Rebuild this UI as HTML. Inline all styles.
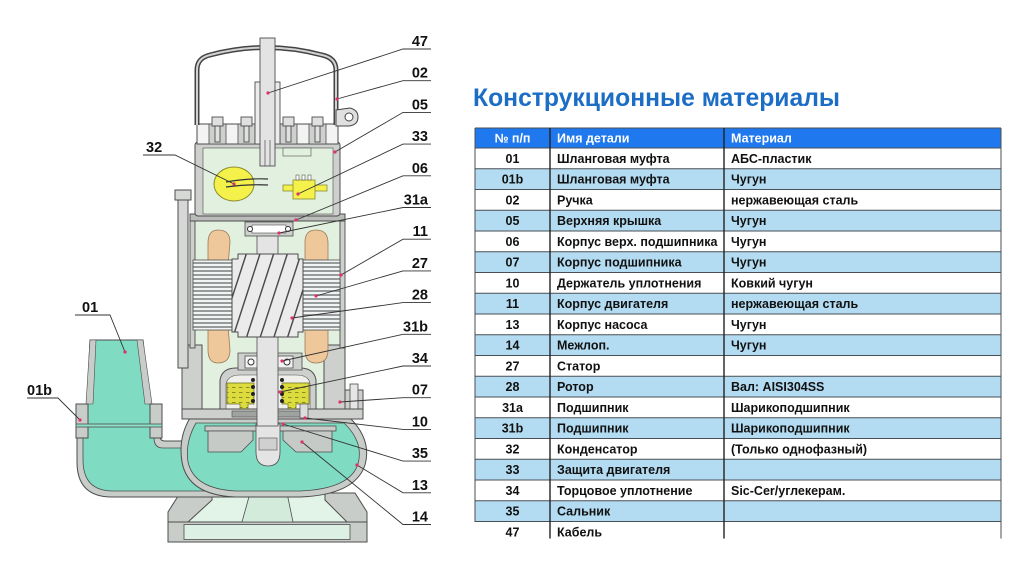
<!DOCTYPE html>
<html><head><meta charset="utf-8"><style>
html,body{margin:0;padding:0;background:#fff;}
svg{display:block;}
.lb{font-family:"Liberation Sans",Arial,sans-serif;font-weight:bold;font-size:14.5px;fill:#111;}
.tt{font-family:"Liberation Sans","Noto Sans CJK SC",sans-serif;font-weight:bold;font-size:12.5px;fill:#111;}
.th{font-family:"Liberation Sans","Noto Sans CJK SC",sans-serif;font-weight:bold;font-size:12.5px;fill:#fff;}
</style></head><body>
<svg width="1024" height="585" viewBox="0 0 1024 585" xmlns="http://www.w3.org/2000/svg">
<defs>
<pattern id="st" width="6" height="4" patternUnits="userSpaceOnUse"><rect width="6" height="4" fill="#f2f4f4"/><rect y="2.2" width="6" height="1.6" fill="#7f8686"/></pattern>
<pattern id="rot" width="13" height="13" patternUnits="userSpaceOnUse" patternTransform="rotate(18)"><rect width="13" height="13" fill="#ebebeb"/><rect x="0" width="1.4" height="13" fill="#444"/></pattern>
<pattern id="oil" width="7" height="5" patternUnits="userSpaceOnUse"><rect width="7" height="5" fill="#dcdc3e"/><rect x="1" y="2" width="3.5" height="1" fill="#8a8a20"/></pattern>
</defs>
<rect width="1024" height="585" fill="#fff"/>

<!-- ===== PUMP ===== -->
<!-- base -->
<polygon points="212,493 325,493 347,522 188,522" fill="#e2f3e8"/>
<rect x="168" y="522" width="199" height="20" fill="#c9cdc9" stroke="#4d4d4d" stroke-width="1"/>
<rect x="184" y="524.5" width="166" height="15" fill="#dcf1e3" stroke="#4d4d4d" stroke-width="0.8"/>
<polygon points="180,493 212,493 212,500 188,522 168,522 168,512" fill="#c9cdc9" stroke="#4d4d4d" stroke-width="1"/>
<polygon points="325,493 355,493 367,512 367,522 347,522 325,500" fill="#c9cdc9" stroke="#4d4d4d" stroke-width="1"/>
<polygon points="250,493 287,493 293,522 242,522" fill="#d3ebdb" stroke="#4d4d4d" stroke-width="0.8"/>

<!-- discharge pipe -->
<path d="M77 436 L77 462 Q77 497 112 497 L240 497 L240 441 L165 441 Q160 441 160 436 Z" fill="#c9cdc9" stroke="#4d4d4d" stroke-width="1"/>
<path d="M83 436 L83 460 Q83 491 113 491 L240 491 L240 448 L163 448 Q154 448 154 438 L154 436 Z" fill="#7fdbc2" stroke="#4d4d4d" stroke-width="0.8"/>
<rect x="88" y="404" width="62" height="36" fill="#7fdbc2"/>
<polygon points="90,340 143,340 152,425 86,425" fill="#7fdbc2" stroke="#4d4d4d" stroke-width="1"/>
<polygon points="90,340 96,340 93,404 86,404" fill="#c9cdc9" stroke="#4d4d4d" stroke-width="0.6"/>
<polygon points="137,340 143,340 152,404 145,404" fill="#c9cdc9" stroke="#4d4d4d" stroke-width="0.6"/>
<rect x="76" y="404" width="12" height="34" fill="#c9cdc9" stroke="#4d4d4d" stroke-width="1"/>
<rect x="150" y="404" width="12" height="34" fill="#c9cdc9" stroke="#4d4d4d" stroke-width="1"/>
<rect x="76" y="424" width="86" height="3" fill="#8fe0c8" stroke="#4d4d4d" stroke-width="0.8"/>

<!-- volute -->
<path d="M190 418 L350 418 Q372 440 365 465 Q355 495 300 497 L235 497 Q188 495 182 462 Q178 438 190 418 Z" fill="#c9cdc9" stroke="#4d4d4d" stroke-width="1"/>
<path d="M196 423 L344 423 Q364 442 358 464 Q350 489 300 491 L236 491 Q194 489 188 462 Q185 442 196 423 Z" fill="#7fdbc2" stroke="#4d4d4d" stroke-width="0.8"/>
<!-- impeller -->
<rect x="205" y="426" width="131" height="5" fill="#c9cdc9" stroke="#4d4d4d" stroke-width="0.8"/>
<polygon points="208,431 253,431 253,440 241,452 208,452" fill="#c5cac6" stroke="#4d4d4d" stroke-width="0.8"/>
<polygon points="283,431 332,431 332,452 296,452 283,440" fill="#c5cac6" stroke="#4d4d4d" stroke-width="0.8"/>
<path d="M256 424 L280 424 L280 452 Q280 466 268 466 Q256 466 256 452 Z" fill="#e4e4e4" stroke="#4d4d4d" stroke-width="0.8"/>
<rect x="259" y="438" width="18" height="12" fill="#d0d0d0" stroke="#4d4d4d" stroke-width="0.6"/>

<!-- motor interior mint -->
<rect x="193" y="218" width="150" height="192" fill="#e2f1df"/>

<!-- lower bearing housing 07 -->
<rect x="182" y="345" width="20" height="66" fill="#cdd0cd" stroke="#4d4d4d" stroke-width="1"/>
<rect x="324" y="345" width="21" height="66" fill="#cdd0cd" stroke="#4d4d4d" stroke-width="1"/>
<rect x="345" y="390" width="18" height="22" fill="#cdd0cd" stroke="#4d4d4d" stroke-width="1"/>
<rect x="350" y="384" width="8" height="28" fill="#e6e6e6" stroke="#4d4d4d" stroke-width="0.8"/>
<path d="M220 410 L220 380 Q222 368 236 368 L300 368 Q314 368 316 380 L316 410 Z" fill="#cdd0cd" stroke="#4d4d4d" stroke-width="1"/>
<path d="M226 410 L226 384 Q228 375 240 375 L296 375 Q309 375 310 384 L310 410 Z" fill="#efefec" stroke="#4d4d4d" stroke-width="0.6"/>
<path d="M227 383 L254 383 L254 404 L248 404 L248 412 L240 412 L240 404 L227 404 Z" fill="url(#oil)" stroke="#6a6a20" stroke-width="0.7"/>
<path d="M282 383 L309 383 L309 404 L296 404 L296 412 L288 412 L288 404 L282 404 Z" fill="url(#oil)" stroke="#6a6a20" stroke-width="0.7"/>
<rect x="182" y="409" width="181" height="10" fill="#cdd0cd" stroke="#4d4d4d" stroke-width="1"/>
<rect x="232" y="411" width="74" height="6" fill="#9fa39f" stroke="#4d4d4d" stroke-width="0.6"/>
<rect x="300" y="404" width="8" height="14" fill="#ddd" stroke="#4d4d4d" stroke-width="0.7"/>

<!-- 31b bearing bracket -->
<path d="M238 370 L238 353 L302 353 L302 370 Z" fill="#cdd0cd" stroke="#4d4d4d" stroke-width="0.8"/>
<rect x="245" y="356" width="48" height="12" fill="#f2f2f2" stroke="#4d4d4d" stroke-width="0.8"/>
<circle cx="251" cy="362" r="3" fill="#fff" stroke="#333"/>
<circle cx="287" cy="362" r="3" fill="#fff" stroke="#333"/>

<!-- shaft -->
<rect x="257" y="226" width="21" height="200" fill="#e4e4e4" stroke="#4d4d4d" stroke-width="0.8"/>
<g fill="#222">
<circle cx="253" cy="380" r="2"/><circle cx="253" cy="387" r="2"/><circle cx="253" cy="394" r="2"/><circle cx="253" cy="401" r="2"/>
<circle cx="282" cy="380" r="2"/><circle cx="282" cy="387" r="2"/><circle cx="282" cy="394" r="2"/><circle cx="282" cy="401" r="2"/>
</g>

<!-- motor walls -->
<rect x="190" y="218" width="5" height="130" fill="#cdd0cd" stroke="#4d4d4d" stroke-width="0.9"/>
<rect x="340" y="218" width="5" height="130" fill="#cdd0cd" stroke="#4d4d4d" stroke-width="0.9"/>
<rect x="178" y="196" width="10" height="172" fill="#d6d8d6" stroke="#4d4d4d" stroke-width="1"/>
<rect x="175" y="190" width="16" height="10" fill="#d6d8d6" stroke="#4d4d4d" stroke-width="1"/>

<!-- windings (behind stator) -->
<g fill="#eec79a" stroke="#9a7a58" stroke-width="0.8">
<path d="M208 266 L208 243 Q208 230 218 230 Q230 230 230 242 L228 266 Z"/>
<path d="M305 266 L305 242 Q305 230 316 230 Q328 230 328 243 L328 266 Z"/>
<path d="M208 326 L228 326 L230 350 Q230 363 218 363 Q208 363 208 350 Z"/>
<path d="M305 326 L328 326 L328 350 Q328 363 316 363 Q305 363 305 350 Z"/>
</g>

<!-- stator & rotor -->
<rect x="193" y="260" width="147" height="70" fill="url(#st)" stroke="#4d4d4d" stroke-width="0.8"/>
<polygon points="238,254 298,254 298,259 303,259 303,332 298,332 298,337 238,337 238,332 232,332 232,259 238,259" fill="url(#rot)" stroke="#4d4d4d" stroke-width="1"/>

<!-- 31a bearing -->
<rect x="245" y="222" width="48" height="14" fill="#cdd0cd" stroke="#4d4d4d" stroke-width="0.8"/>
<rect x="252" y="225" width="34" height="8" fill="#fff" stroke="#4d4d4d" stroke-width="0.6"/>
<circle cx="250" cy="229" r="2.5" fill="#fff" stroke="#333"/>
<circle cx="288" cy="229" r="2.5" fill="#fff" stroke="#333"/>

<!-- plate -->
<rect x="190" y="214" width="155" height="7" fill="#b9bcb9" stroke="#4d4d4d" stroke-width="1"/>

<!-- upper chamber 05 -->
<rect x="195" y="142" width="145" height="74" rx="3" fill="#cdd0cd" stroke="#4d4d4d" stroke-width="1"/>
<rect x="203" y="148" width="130" height="66" fill="#e2f1df" stroke="#4d4d4d" stroke-width="0.6"/>
<rect x="283" y="148" width="28" height="8" fill="#e2f1df" stroke="#4d4d4d" stroke-width="0.6"/>
<rect x="197" y="124" width="141" height="20" fill="#f3f3f3" stroke="#4d4d4d" stroke-width="1"/>
<g fill="#cdd0cd" stroke="#4d4d4d" stroke-width="0.8">
<rect x="209" y="124" width="17" height="20"/><rect x="238" y="124" width="17" height="20"/>
<rect x="280" y="124" width="17" height="20"/><rect x="309" y="124" width="17" height="20"/>
</g>
<g fill="#e0e0e0" stroke="#4d4d4d" stroke-width="0.9">
<rect x="212" y="117" width="11" height="9"/><rect x="241" y="117" width="11" height="9"/>
<rect x="283" y="117" width="11" height="9"/><rect x="312" y="117" width="11" height="9"/>
<rect x="215" y="126" width="5" height="16"/><rect x="244" y="126" width="5" height="16"/>
<rect x="286" y="126" width="5" height="16"/><rect x="315" y="126" width="5" height="16"/>
</g>

<!-- handle 02 -->
<path d="M197 125 L197 70 Q197 58 210 55 Q266 40 322 55 Q336 58 336 70 L336 125" fill="none" stroke="#444" stroke-width="5"/>
<path d="M197 125 L197 70 Q197 58 210 55 Q266 40 322 55 Q336 58 336 70 L336 125" fill="none" stroke="#d2d2d2" stroke-width="2"/>
<path d="M336 110 L350 108 Q358 110 358 117 Q358 125 349 126 L336 126 Z" fill="#e0e0e0" stroke="#444" stroke-width="1"/>
<circle cx="349" cy="117" r="4" fill="#fff" stroke="#444" stroke-width="1"/>

<!-- cable 47 -->
<rect x="255" y="82" width="25" height="62" fill="#ececec" stroke="#4d4d4d" stroke-width="0.9"/>
<rect x="260" y="38" width="15" height="128" fill="#e3e3e3" stroke="#4d4d4d" stroke-width="0.9"/>
<line x1="265" y1="140" x2="265" y2="166" stroke="#4d4d4d" stroke-width="0.7"/>
<line x1="270" y1="140" x2="270" y2="166" stroke="#4d4d4d" stroke-width="0.7"/>

<!-- capacitor 32 -->
<ellipse cx="234" cy="184" rx="20" ry="17" fill="#f3f14a" stroke="#8a8a30" stroke-width="1"/>
<path d="M226 182 Q250 178 268 179" fill="none" stroke="#333" stroke-width="1.2"/>
<path d="M226 187 Q250 184 268 185" fill="none" stroke="#333" stroke-width="1.2"/>
<!-- protector 33 -->
<rect x="283" y="185" width="44" height="6" fill="#f3f14a" stroke="#8a8a30" stroke-width="0.8"/>
<rect x="293" y="180" width="22" height="19" fill="#f3f14a" stroke="#8a8a30" stroke-width="0.8"/>
<g fill="#fff" stroke="#555" stroke-width="0.6"><rect x="296" y="175" width="3" height="5"/><rect x="302" y="175" width="3" height="5"/><rect x="308" y="175" width="3" height="5"/></g>

<!-- ===== LEADERS ===== -->
<g stroke="#333" stroke-width="0.9" fill="none">
<path d="M431 49 L403 49 L268 93"/>
<path d="M431 80.7 L403 80.7 L337 99"/>
<path d="M431 112.4 L403 112.4 L335 152"/>
<path d="M431 144.1 L403 144.1 L298 194"/>
<path d="M431 175.8 L403 175.8 L296 220"/>
<path d="M431 207.5 L403 207.5 L279 233"/>
<path d="M431 239.2 L403 239.2 L341 275"/>
<path d="M431 270.9 L403 270.9 L316 296"/>
<path d="M431 302.6 L403 302.6 L292 318"/>
<path d="M431 334.3 L403 334.3 L282 361"/>
<path d="M431 366 L403 366 L280 392"/>
<path d="M431 397.7 L403 397.7 L340 402"/>
<path d="M431 429.4 L403 429.4 L305 418"/>
<path d="M431 461.1 L403 461.1 L283 424"/>
<path d="M431 492.8 L403 492.8 L357 465"/>
<path d="M431 524.5 L403 524.5 L302 442"/>
<path d="M143 155 L175 155 L234 184"/>
<path d="M75 315 L110 315 L125 352"/>
<path d="M27 398 L58 398 L80 420"/>
</g>
<g fill="#e0306a">
<circle cx="268" cy="93" r="1.6"/><circle cx="337" cy="99" r="1.6"/><circle cx="335" cy="152" r="1.6"/>
<circle cx="298" cy="194" r="1.6"/><circle cx="296" cy="220" r="1.6"/><circle cx="279" cy="233" r="1.6"/>
<circle cx="341" cy="275" r="1.6"/><circle cx="316" cy="296" r="1.6"/><circle cx="292" cy="318" r="1.6"/>
<circle cx="282" cy="361" r="1.6"/><circle cx="280" cy="392" r="1.6"/><circle cx="340" cy="402" r="1.6"/>
<circle cx="305" cy="418" r="1.6"/><circle cx="283" cy="424" r="1.6"/><circle cx="357" cy="465" r="1.6"/>
<circle cx="302" cy="442" r="1.6"/><circle cx="234" cy="184" r="1.6"/><circle cx="125" cy="352" r="1.6"/>
<circle cx="80" cy="420" r="1.6"/>
</g>
<g class="lb" text-anchor="end">
<text x="428" y="46">47</text>
<text x="428" y="77.7">02</text>
<text x="428" y="109.4">05</text>
<text x="428" y="141.1">33</text>
<text x="428" y="172.8">06</text>
<text x="428" y="204.5">31a</text>
<text x="428" y="236.2">11</text>
<text x="428" y="267.9">27</text>
<text x="428" y="299.6">28</text>
<text x="428" y="331.3">31b</text>
<text x="428" y="363">34</text>
<text x="428" y="394.7">07</text>
<text x="428" y="426.4">10</text>
<text x="428" y="458.1">35</text>
<text x="428" y="489.8">13</text>
<text x="428" y="521.5">14</text>
</g>
<g class="lb">
<text x="146" y="152">32</text>
<text x="82" y="312">01</text>
<text x="27" y="395">01b</text>
</g>

<!-- ===== TITLE ===== -->
<text x="473" y="106" textLength="367" lengthAdjust="spacingAndGlyphs" style="font-family:'Liberation Sans','Noto Sans CJK SC',sans-serif;font-weight:bold;font-size:25px;fill:#1b6dc6;">Конструкционные материалы</text>

<!-- ===== TABLE ===== -->
<rect x="475" y="128" width="526" height="20" fill="#1f78ee"/>
<g fill="#b3dcf2">
<rect x="475" y="168.75" width="526" height="20.75"/>
<rect x="475" y="210.25" width="526" height="20.75"/>
<rect x="475" y="251.75" width="526" height="20.75"/>
<rect x="475" y="293.25" width="526" height="20.75"/>
<rect x="475" y="334.75" width="526" height="20.75"/>
<rect x="475" y="376.25" width="526" height="20.75"/>
<rect x="475" y="417.75" width="526" height="20.75"/>
<rect x="475" y="459.25" width="526" height="20.75"/>
<rect x="475" y="500.75" width="526" height="20.75"/>
</g>
<g stroke="#4a4f55" stroke-width="1">
<line x1="475" y1="128" x2="1001" y2="128"/>
<line x1="475" y1="148" x2="1001" y2="148"/>
<line x1="475" y1="168.75" x2="1001" y2="168.75"/>
<line x1="475" y1="189.5" x2="1001" y2="189.5"/>
<line x1="475" y1="210.25" x2="1001" y2="210.25"/>
<line x1="475" y1="231" x2="1001" y2="231"/>
<line x1="475" y1="251.75" x2="1001" y2="251.75"/>
<line x1="475" y1="272.5" x2="1001" y2="272.5"/>
<line x1="475" y1="293.25" x2="1001" y2="293.25"/>
<line x1="475" y1="314" x2="1001" y2="314"/>
<line x1="475" y1="334.75" x2="1001" y2="334.75"/>
<line x1="475" y1="355.5" x2="1001" y2="355.5"/>
<line x1="475" y1="376.25" x2="1001" y2="376.25"/>
<line x1="475" y1="397" x2="1001" y2="397"/>
<line x1="475" y1="417.75" x2="1001" y2="417.75"/>
<line x1="475" y1="438.5" x2="1001" y2="438.5"/>
<line x1="475" y1="459.25" x2="1001" y2="459.25"/>
<line x1="475" y1="480" x2="1001" y2="480"/>
<line x1="475" y1="500.75" x2="1001" y2="500.75"/>
<line x1="475" y1="521.5" x2="1001" y2="521.5"/>
<line x1="475" y1="128" x2="475" y2="522"/>
<line x1="1001" y1="128" x2="1001" y2="538.5"/>
</g>
<g stroke="#222" stroke-width="1.4">
<line x1="550" y1="128" x2="550" y2="538.5"/>
<line x1="724" y1="128" x2="724" y2="538.5"/>
</g>
<text class="th" x="512.5" y="142.5" text-anchor="middle">№ п/п</text>
<text class="th" x="557" y="142.5">Имя детали</text>
<text class="th" x="731" y="142.5">Материал</text>

<g class="tt" text-anchor="middle">
<text x="512.5" y="162.8">01</text>
<text x="512.5" y="183.55">01b</text>
<text x="512.5" y="204.3">02</text>
<text x="512.5" y="225.05">05</text>
<text x="512.5" y="245.8">06</text>
<text x="512.5" y="266.55">07</text>
<text x="512.5" y="287.3">10</text>
<text x="512.5" y="308.05">11</text>
<text x="512.5" y="328.8">13</text>
<text x="512.5" y="349.55">14</text>
<text x="512.5" y="370.3">27</text>
<text x="512.5" y="391.05">28</text>
<text x="512.5" y="411.8">31a</text>
<text x="512.5" y="432.55">31b</text>
<text x="512.5" y="453.3">32</text>
<text x="512.5" y="474.05">33</text>
<text x="512.5" y="494.8">34</text>
<text x="512.5" y="515.55">35</text>
<text x="512.5" y="536.3">47</text>
</g>
<g class="tt">
<text x="557" y="162.8">Шланговая муфта</text>
<text x="557" y="183.55">Шланговая муфта</text>
<text x="557" y="204.3">Ручка</text>
<text x="557" y="225.05">Верхняя крышка</text>
<text x="557" y="245.8">Корпус верх. подшипника</text>
<text x="557" y="266.55">Корпус подшипника</text>
<text x="557" y="287.3">Держатель уплотнения</text>
<text x="557" y="308.05">Корпус двигателя</text>
<text x="557" y="328.8">Корпус насоса</text>
<text x="557" y="349.55">Межлоп.</text>
<text x="557" y="370.3">Статор</text>
<text x="557" y="391.05">Ротор</text>
<text x="557" y="411.8">Подшипник</text>
<text x="557" y="432.55">Подшипник</text>
<text x="557" y="453.3">Конденсатор</text>
<text x="557" y="474.05">Защита двигателя</text>
<text x="557" y="494.8">Торцовое уплотнение</text>
<text x="557" y="515.55">Сальник</text>
<text x="557" y="536.3">Кабель</text>

<text x="731" y="162.8">АБС-пластик</text>
<text x="731" y="183.55">Чугун</text>
<text x="731" y="204.3">нержавеющая сталь</text>
<text x="731" y="225.05">Чугун</text>
<text x="731" y="245.8">Чугун</text>
<text x="731" y="266.55">Чугун</text>
<text x="731" y="287.3">Ковкий чугун</text>
<text x="731" y="308.05">нержавеющая сталь</text>
<text x="731" y="328.8">Чугун</text>
<text x="731" y="349.55">Чугун</text>
<text x="731" y="391.05">Вал: AISI304SS</text>
<text x="731" y="411.8">Шарикоподшипник</text>
<text x="731" y="432.55">Шарикоподшипник</text>
<text x="731" y="453.3">(Только однофазный)</text>
<text x="731" y="494.8">Sic-Cer/углекерам.</text>
</g>
</svg>
</body></html>
